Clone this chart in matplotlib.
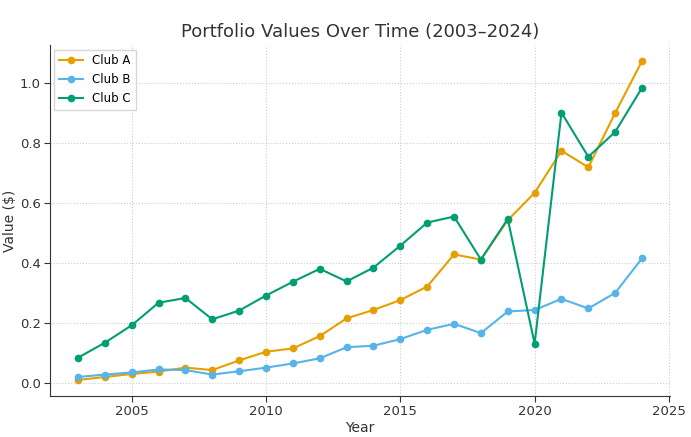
import numpy as np
import matplotlib
matplotlib.use("Agg")
import matplotlib.pyplot as plt

# values
years = list(range(2003, 2025))
club_a = [0.011, 0.021, 0.031, 0.039, 0.052, 0.044, 0.076, 0.105, 0.116, 0.157, 0.216,
          0.244, 0.277, 0.322, 0.429, 0.412, 0.543, 0.634, 0.774, 0.719, 0.900, 1.073]
club_b = [0.021, 0.029, 0.036, 0.046, 0.044, 0.029, 0.040, 0.052, 0.066, 0.083, 0.120,
          0.125, 0.147, 0.178, 0.198, 0.167, 0.239, 0.244, 0.281, 0.249, 0.301, 0.416]
club_c = [0.085, 0.135, 0.193, 0.268, 0.284, 0.213, 0.242, 0.292, 0.338, 0.381, 0.339,
          0.385, 0.458, 0.535, 0.555, 0.412, 0.547, 0.132, 0.901, 0.754, 0.837, 0.984]

fig = plt.figure(figsize=(6.91, 4.37), dpi=100)
ax = fig.add_axes([0.072, 0.094, 0.898, 0.803])

ax.plot(years, club_a, marker="o", markersize=4.5, linewidth=1.5, color="#E69F00", label="Club A")
ax.plot(years, club_b, marker="o", markersize=4.5, linewidth=1.5, color="#56B4E9", label="Club B")
ax.plot(years, club_c, marker="o", markersize=4.5, linewidth=1.5, color="#009E73", label="Club C")

ax.set_title("Portfolio Values Over Time (2003\u20132024)", fontsize=13, color="#333333")
ax.set_xlabel("Year", fontsize=10, color="#333333", labelpad=2)
ax.set_ylabel("Value ($)", fontsize=10, color="#333333", labelpad=2)

ax.grid(True, linestyle=":", linewidth=0.8, color="#cccccc")
ax.spines["top"].set_visible(False)
ax.spines["right"].set_visible(False)
for s in ["left", "bottom"]:
    ax.spines[s].set_color("#333333")
ax.tick_params(labelsize=9.5, colors="#333333", length=4, pad=2.5)

leg = ax.legend(loc="upper left", fontsize=8.5, frameon=True, fancybox=False,
                borderaxespad=0.4)
leg.get_frame().set_edgecolor("#cccccc")

fig.savefig("out.png", dpi=100)
